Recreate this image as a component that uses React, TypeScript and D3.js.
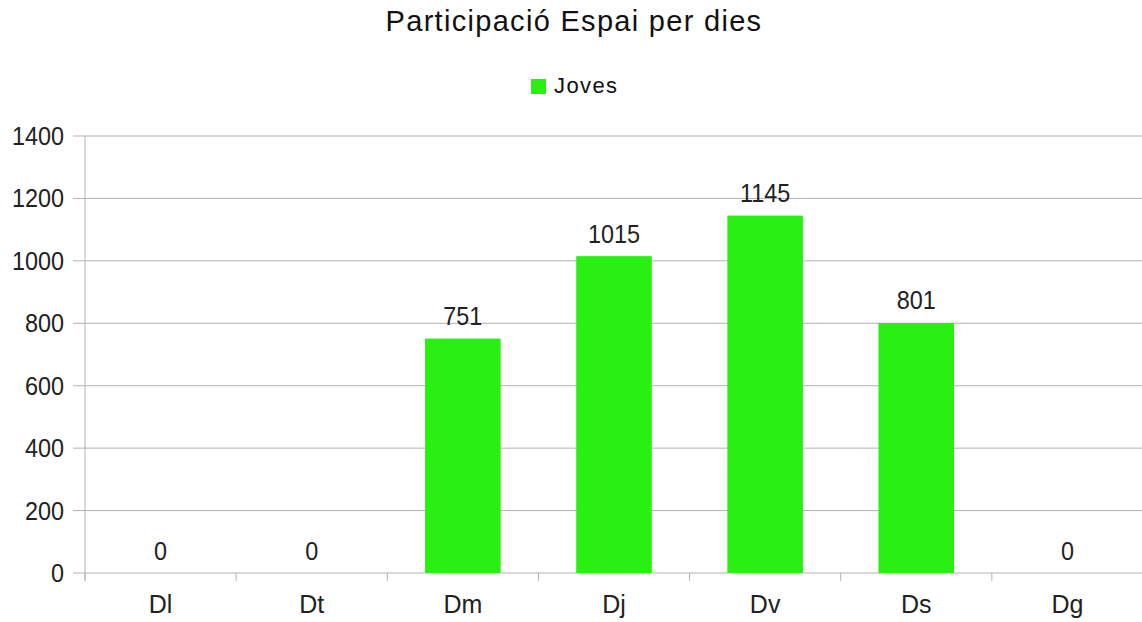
import React from "react";
import * as d3 from "d3";

const days = ["Dl", "Dt", "Dm", "Dj", "Dv", "Ds", "Dg"];
const joves = [0, 0, 751, 1015, 1145, 801, 0];
const yTicks = [0, 200, 400, 600, 800, 1000, 1200, 1400];

const W = 1142;
const H = 622;
const left = 85;
const right = 1143;
const top = 136;
const bottom = 573;
const font = "'Liberation Sans', Arial, sans-serif";
const green = "#29ef13";

// digits in the original look a little condensed
function Num(props: { x: number; y: number; anchor: string; children: React.ReactNode }) {
  return (
    <text
      transform={`translate(${props.x},${props.y}) scale(0.9,1)`}
      textAnchor={props.anchor}
      fontFamily={font}
      fontSize={26}
      fill="#222"
    >
      {props.children}
    </text>
  );
}

export default function App() {
  const x = d3.scaleBand().domain(days).range([left, right]).paddingInner(0).paddingOuter(0);
  const y = d3.scaleLinear().domain([0, 1400]).range([bottom, top]);
  const bw = x.bandwidth() * 0.5;

  return (
    <svg width={W} height={H} style={{ position: "absolute", left: 0, top: 0 }}>
      <rect width={W} height={H} fill="#fff" />
      <text x={574} y={31} textAnchor="middle" fontFamily={font} fontSize={29} letterSpacing={1.3} fill="#111">
        Participació Espai per dies
      </text>
      <rect x={531} y={79} width={15} height={15} fill={green} />
      <text x={554} y={93} fontFamily={font} fontSize={22} letterSpacing={1.4} fill="#111">
        Joves
      </text>

      {yTicks.map((t) => (
        <g key={t}>
          <line x1={73} x2={right} y1={y(t)} y2={y(t)} stroke="#b3b3b3" strokeWidth={1} />
          <Num x={64} y={y(t) + 9} anchor="end">
            {t}
          </Num>
        </g>
      ))}
      <line x1={left} x2={left} y1={top} y2={bottom + 8} stroke="#b3b3b3" />
      {days.map((d, i) => (
        <line key={"t" + d} x1={left + i * x.step()} x2={left + i * x.step()} y1={bottom} y2={bottom + 8} stroke="#b3b3b3" />
      ))}

      {days.map((d, i) => {
        const cx = (x(d) as number) + x.bandwidth() / 2;
        const v = joves[i];
        return (
          <g key={d}>
            {v > 0 && <rect x={cx - bw / 2} y={y(v)} width={bw} height={bottom - y(v)} fill={green} />}
            <Num x={cx} y={y(v) - 13.5} anchor="middle">
              {v}
            </Num>
            <text x={cx} y={bottom + 40} textAnchor="middle" fontFamily={font} fontSize={25} fill="#222">
              {d}
            </text>
          </g>
        );
      })}
    </svg>
  );
}
